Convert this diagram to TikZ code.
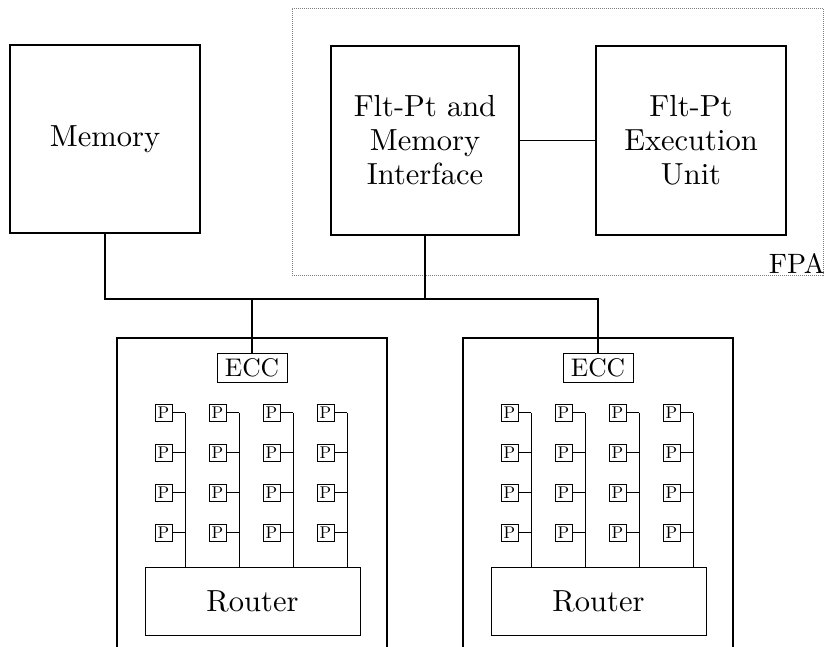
\documentclass[tikz,border=0pt]{standalone}
\usepackage{fontspec}
\newfontfamily\tenrm{lmroman10-regular}[Extension=.otf]
\begin{document}
\begin{tikzpicture}[x=1pt,y=-1pt,
  bigbox/.style={draw,line width=1.4pt,inner sep=0pt,align=center,font=\tenrm\fontsize{30.5}{34}\selectfont},
  eccbox/.style={draw,line width=1pt,inner sep=0pt,minimum width=70pt,minimum height=29pt,font=\tenrm\fontsize{25.5}{28}\selectfont},
  pbox/.style={draw,line width=0.8pt,inner sep=0pt,minimum width=17pt,minimum height=17pt,font=\tenrm\fontsize{17}{17}\selectfont},
  routerbox/.style={draw,line width=0.8pt,inner sep=0pt,minimum width=215pt,minimum height=68pt,font=\tenrm\fontsize{30.5}{34}\selectfont},
  fpabox/.style={draw,gray,line width=0.6pt,dash pattern=on 1pt off 1pt,inner sep=0pt},
  bus/.style={line width=1.4pt},
  thin/.style={line width=0.8pt}]
\useasboundingbox (0,0) rectangle (824,646);
% top row
\node[bigbox,minimum width=190pt,minimum height=188pt] (mem) at (105,139) {Memory};
\node[fpabox,minimum width=531pt,minimum height=267pt] (fpa) at (557.5,141.5) {};
\node[bigbox,minimum width=188pt,minimum height=189pt] (iface) at (425,140.5) {Flt-Pt and\\Memory\\Interface};
\node[bigbox,minimum width=190pt,minimum height=189pt] (exec) at (691,140.5) {Flt-Pt\\Execution\\Unit};
\node[anchor=base east,inner sep=0pt,font=\tenrm\fontsize{28}{30}\selectfont] (fpalbl) at (825,273) {FPA};
\draw[bus] (iface.east) -- (exec.west);
% clusters
\foreach \c/\off in {1/0,2/346}{
  \draw[bus] (117+\off,670) -- (117+\off,338) -- (387+\off,338) -- (387+\off,670);
  \node[eccbox] (ecc\c) at (252+\off,367.5) {ECC};
  \node[routerbox] (router\c) at (252.5+\off,601) {Router};
  \foreach \i in {0,1,2,3}{
    \coordinate (top-\c-\i) at (185+\off+54*\i,412.5);
    \draw[thin] (top-\c-\i) -- (top-\c-\i |- router\c.north);
    \foreach \j in {0,1,2,3}{
      \node[pbox] (p-\c-\i-\j) at (163.5+\off+54*\i,412.5+40*\j) {P};
      \draw[thin] (p-\c-\i-\j.east) -- (p-\c-\i-\j.east -| top-\c-\i);
    }
  }
}
% bus
\coordinate (busy) at (0,299);
\draw[bus] (mem.south) |- (ecc2.north |- busy) -- (ecc2.north);
\draw[bus] (iface.south) -- (iface.south |- busy);
\draw[bus] (ecc1.north |- busy) -- (ecc1.north);
\end{tikzpicture}
\end{document}
